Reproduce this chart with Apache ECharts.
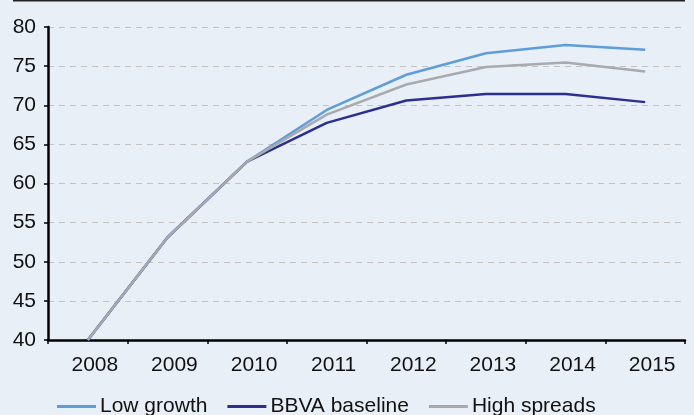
<!DOCTYPE html>
<html>
<head>
<meta charset="utf-8">
<script src="https://cdn.jsdelivr.net/npm/echarts@6/dist/echarts.min.js"></script>
<style>
  html, body { margin: 0; padding: 0; background: #e9eff7; }
  #chart { width: 694px; height: 415px; }
</style>
</head>
<body>
<div id="chart"></div>
<script>
// Years on the category axis
const years = ['2008', '2009', '2010', '2011', '2012', '2013', '2014', '2015'];

// Scenario paths
const lowGrowth     = [40, 53.1, 62.8, 69.4, 73.9, 76.65, 77.7, 77.1];
const bbvaBaseline  = [40, 53.1, 62.8, 67.75, 70.6, 71.45, 71.45, 70.4];
const highSpreads   = [40, 53.1, 62.8, 68.8, 72.65, 74.9, 75.45, 74.3];

// Value axis range
const yMin = 40, yMax = 80, yStep = 5;

const FONT = '"Liberation Sans", Arial, sans-serif';

const chart = echarts.init(document.getElementById('chart'), null, { renderer: 'canvas' });

function line(name, data, color) {
  return {
    name, type: 'line', data,
    symbol: 'none', showSymbol: false,
    lineStyle: { color, width: 2.5 },
    itemStyle: { color },
    emphasis: { disabled: true },
    animation: false
  };
}

chart.setOption({
  backgroundColor: '#e9eff7',
  animation: false,
  graphic: [{
    type: 'rect',
    shape: { x: 13, y: 0, width: 672, height: 1.5 },
    style: { fill: '#222222' }
  }],
  grid: { left: 48, right: 9, top: 27, bottom: 75, containLabel: false },
  legend: {
    left: 52, top: 391,
    icon: 'rect', itemWidth: 39, itemHeight: 3, itemGap: 20,
    textStyle: { fontFamily: FONT, fontSize: 21, color: '#111', padding: [0, 0, 0, -1] },
    data: ['Low growth', 'BBVA baseline', 'High spreads']
  },
  xAxis: {
    type: 'category', data: years, boundaryGap: true,
    axisLine: { lineStyle: { color: '#000', width: 2.5 } },
    axisTick: { show: true, length: 4, lineStyle: { color: '#000', width: 1.5 } },
    axisLabel: { fontFamily: FONT, fontSize: 21, color: '#111', margin: 15, padding: [0, 0, 0, 14] },
    splitLine: { show: false }
  },
  yAxis: {
    type: 'value', min: yMin, max: yMax, interval: yStep,
    axisLine: { show: true, lineStyle: { color: '#000', width: 2.5 } },
    axisTick: { show: true, length: 4, lineStyle: { color: '#000', width: 1.5 } },
    axisLabel: { fontFamily: FONT, fontSize: 21, color: '#111', margin: 12, padding: [0, 0, 6, 0] },
    splitLine: { show: true, lineStyle: { color: '#c2c2c2', type: [6, 5], width: 1.2 } }
  },
  series: [
    line('Low growth', lowGrowth, '#5e9ddb'),
    line('BBVA baseline', bbvaBaseline, '#2b2f8f'),
    line('High spreads', highSpreads, '#a8aaad')
  ]
});
</script>
</body>
</html>
